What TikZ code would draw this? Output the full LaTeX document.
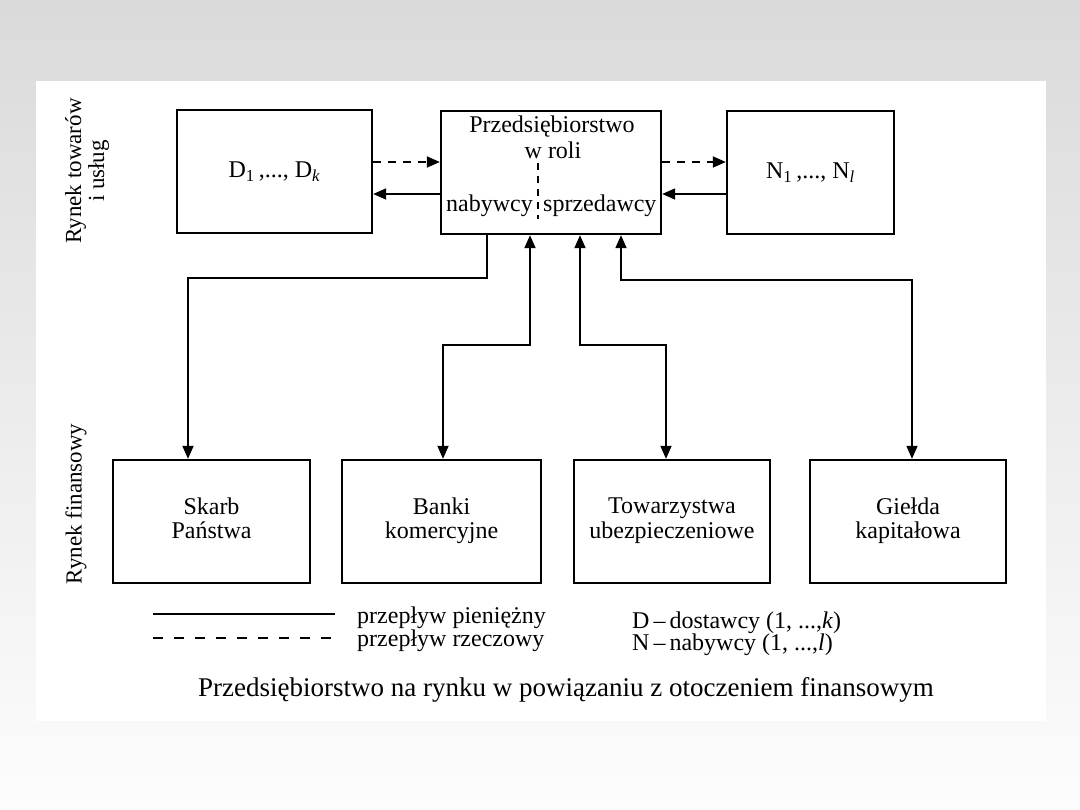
\documentclass[tikz,border=0pt]{standalone}
\usepackage{fontspec}
\setmainfont{Liberation Serif}
\usetikzlibrary{arrows.meta}
\begin{document}
\begin{tikzpicture}[x=1pt,y=-1pt,
  >={Triangle[length=13pt,width=11pt]},
  box/.style={draw, line width=2.4pt, minimum height=123pt, inner sep=0pt, align=center,
    font=\fontsize{24}{23}\selectfont},
  conn/.style={line width=1.8pt},
  dconn/.style={line width=1.8pt, dash pattern=on 8pt off 7pt},
  txt/.style={inner sep=0pt, font=\fontsize{24}{22}\selectfont},
  side/.style={rotate=90, align=center, inner sep=0pt, font=\fontsize{23}{23}\selectfont}
]
% background
\useasboundingbox (0,0) rectangle (1080,810);
\shade[top color={rgb,255:red,218;green,218;blue,218}, bottom color={rgb,255:red,253;green,253;blue,253}] (0,0) rectangle (1080,810);
\fill[white] (36,81) rectangle (1046,721);

% top boxes
\node[box, minimum width=195pt] (D) at (274.5,171.5) {D\textsubscript{1}\,,..., D\textsubscript{\textit{k}}};
\node[box, minimum width=220pt] (P) at (551,172.5) {};
\node[box, minimum width=167pt] (N) at (810.5,172.5) {N\textsubscript{1}\,,..., N\textsubscript{\textit{l}}};

% texts in P
\node[txt] (p1) at (552,127) {Przedsiębiorstwo};
\node[txt] (p2) at (553,150) {w roli};
\node[txt, anchor=east] (p3) at (533,206) {nabywcy};
\node[txt, anchor=west] (p4) at (543,206) {sprzedawcy};
\coordinate (dv1) at (538,163);
\coordinate (dv2) at (538,219);
\draw[line width=1.3pt, dash pattern=on 7pt off 6pt] (dv1) -- (dv2);

% bottom boxes
\node[box, minimum width=197pt] (S) at (211.5,521.5) {Skarb\strut\\Państwa\strut};
\node[box, minimum width=199pt] (B) at (441.5,521.5) {Banki\strut\\komercyjne\strut};
\node[box, minimum width=196pt] (T) at (672,521.5) {Towarzystwa\strut\\ubezpieczeniowe\strut};
\node[box, minimum width=196pt] (G) at (908,521.5) {Giełda\strut\\kapitałowa\strut};

% helper coordinates
\coordinate (yd) at (0,162);
\coordinate (ys) at (0,194);
\coordinate (xS1) at (487,0);
\coordinate (xS2) at (188,0);
\coordinate (xB1) at (530,0);
\coordinate (xB2) at (443,0);
\coordinate (xT1) at (580,0);
\coordinate (xT2) at (666,0);
\coordinate (xG1) at (621,0);
\coordinate (xG2) at (912,0);
\coordinate (hS) at (0,278);
\coordinate (hB) at (0,345);
\coordinate (hG) at (0,280);

% horizontal flows
\draw[dconn,->] (D.east |- yd) -- (P.west |- yd);
\draw[conn,->] (P.west |- ys) -- (D.east |- ys);
\draw[dconn,->] (P.east |- yd) -- (N.west |- yd);
\draw[conn,->] (N.west |- ys) -- (P.east |- ys);

% vertical flows
\draw[conn,->] (P.south -| xS1) -- (xS1 |- hS) -| (S.north -| xS2);
\draw[conn,<->] (B.north -| xB2) -- (xB2 |- hB) -| (P.south -| xB1);
\draw[conn,<->] (P.south -| xT1) -- (xT1 |- hB) -| (T.north -| xT2);
\draw[conn,<->] (P.south -| xG1) -- (xG1 |- hG) -| (G.north -| xG2);

% side labels
\node[side] (L1) at (87,171) {Rynek towarów\\i usług};
\node[side] (L2) at (76,504) {Rynek finansowy};

% legend
\coordinate (l1a) at (153,614);
\coordinate (l1b) at (335,614);
\coordinate (l2a) at (153,638);
\coordinate (l2b) at (335,638);
\draw[line width=1.6pt] (l1a) -- (l1b);
\draw[line width=1.6pt, dash pattern=on 10pt off 11pt] (l2a) -- (l2b);
\node[txt, anchor=west] (t1) at (357,618) {przepływ pieniężny};
\node[txt, anchor=west] (t2) at (357,641) {przepływ rzeczowy};
\node[txt, anchor=west] (t3) at (632,623) {D\,–\,dostawcy (1, ...,\textit{k})};
\node[txt, anchor=west] (t4) at (632,645) {N\,–\,nabywcy (1, ...,\textit{l})};

% caption
\node[inner sep=0pt, font=\fontsize{27}{27}\selectfont] (cap) at (566,690) {Przedsiębiorstwo na rynku w powiązaniu z otoczeniem finansowym};
\end{tikzpicture}
\end{document}
